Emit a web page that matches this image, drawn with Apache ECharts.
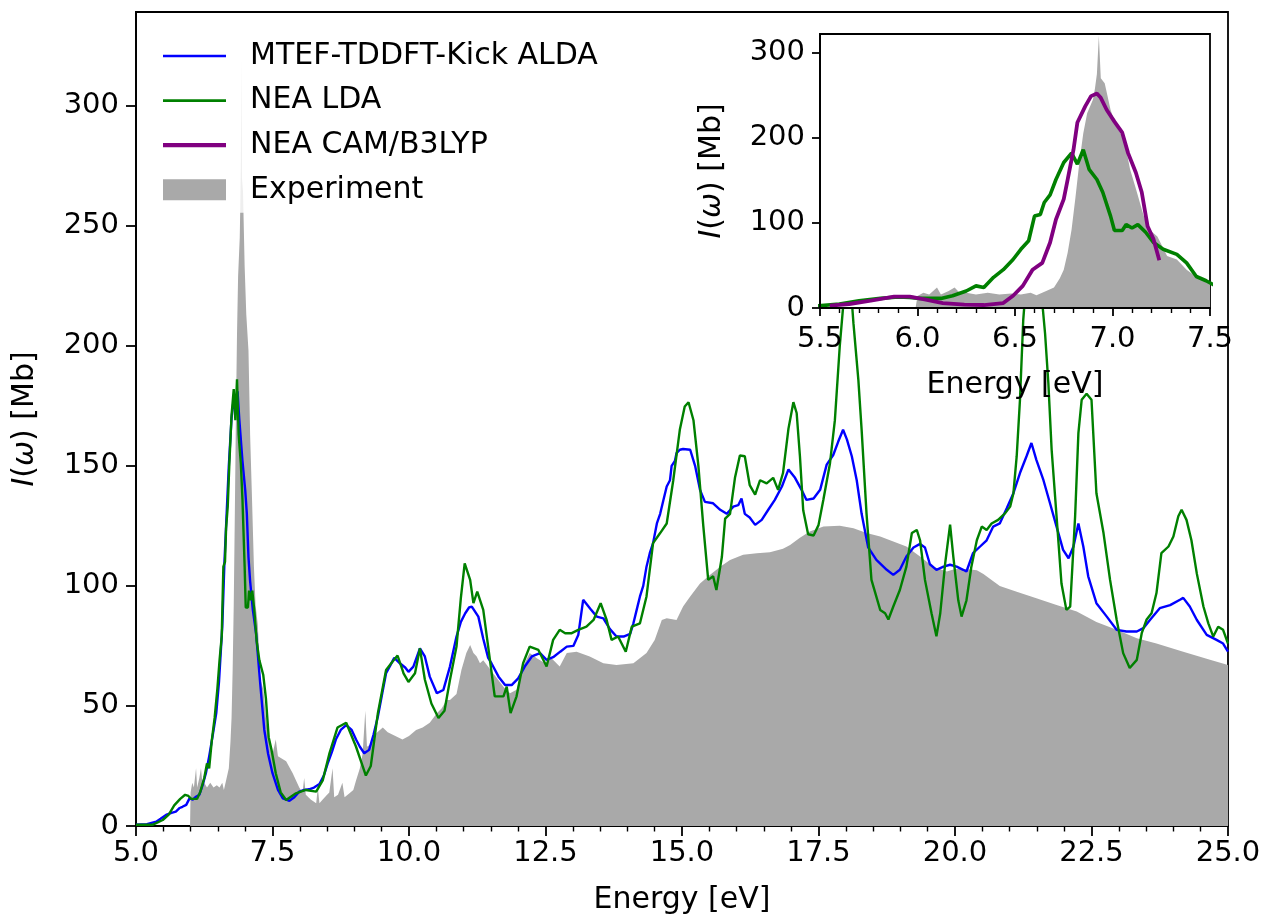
<!DOCTYPE html>
<html>
<head>
<meta charset="utf-8">
<script src="https://cdn.jsdelivr.net/npm/echarts@6/dist/echarts.min.js"></script>
<style>
  html, body { margin: 0; padding: 0; background: #fff; }
  #chart { width: 1267px; height: 921px; }
</style>
</head>
<body>
<div id="chart"></div>
<script>
// Photoabsorption spectra: energy in eV, intensity in Mb

// MTEF-TDDFT-Kick ALDA
const aldaEnergy = [5.0,5.2,5.37,5.45,5.55,5.65,5.73,5.8,5.85,5.92,5.98,6.04,6.1,6.16,6.22,6.28,6.34,6.4,6.47,6.52,6.58,6.62,6.66,6.7,6.75,6.79,6.82,6.84,6.86,6.89,6.95,7.0,7.03,7.06,7.09,7.14,7.2,7.28,7.35,7.42,7.5,7.6,7.69,7.81,7.9,7.99,8.08,8.17,8.26,8.36,8.44,8.51,8.59,8.66,8.75,8.85,8.95,9.03,9.1,9.18,9.27,9.35,9.43,9.5,9.58,9.66,9.73,9.82,9.93,9.99,10.08,10.2,10.29,10.38,10.51,10.63,10.75,10.87,10.95,11.03,11.1,11.15,11.27,11.36,11.45,11.51,11.64,11.76,11.88,12.0,12.12,12.25,12.4,12.52,12.64,12.77,12.89,13.01,13.1,13.19,13.32,13.44,13.56,13.68,13.8,13.93,14.05,14.11,14.17,14.23,14.29,14.35,14.41,14.47,14.54,14.6,14.66,14.72,14.78,14.81,14.87,14.9,14.96,15.02,15.15,15.24,15.33,15.42,15.57,15.7,15.82,15.94,16.03,16.09,16.15,16.24,16.34,16.46,16.58,16.7,16.83,16.95,17.07,17.19,17.28,17.41,17.53,17.65,17.77,17.86,17.95,18.02,18.11,18.2,18.29,18.41,18.56,18.75,18.87,18.99,19.11,19.24,19.36,19.45,19.54,19.66,19.79,19.91,20.03,20.15,20.21,20.33,20.46,20.58,20.7,20.82,20.95,21.07,21.19,21.31,21.4,21.49,21.62,21.74,21.86,21.98,22.08,22.17,22.26,22.35,22.44,22.59,22.78,22.96,23.14,23.33,23.45,23.57,23.75,23.94,24.12,24.18,24.3,24.43,24.61,24.79,24.91,25.0];
const aldaIntensity = [0.5,0.8,1.8,3,4.6,5.5,6,7.5,8,8.8,11.5,11,12.2,13,17,22,29,37,47,60,83,110,130,150,170,178,173,172,181,170,152,140,130,112,102,90,80,58,40,30,22,15,11.5,10.5,12,14.3,15,15.3,16,17.5,21,26,31,36,40,42,40,36,33,30.3,31.7,38,45.6,54,63.6,67,70,68,66,64.2,66.4,74,70.6,62.2,55.3,56.7,66.4,78.9,85,88.6,91,91.4,87.2,78,70,67.8,62.2,58.7,58.7,61.5,66.4,70.6,72,69.2,70.3,72.6,74.7,75,79.5,94.2,90.5,87.2,86.5,82,78.9,78.9,80,84.4,90,95.6,100,108,113.6,117.8,126,130,135.8,141.4,144,150,152,155.3,156.7,157,156.7,150,140,135,134.4,131.7,130,133,133.6,136.4,130,128.5,125.4,127.5,131.7,135.8,141.4,148.5,145,140,135.8,136.4,140,150.5,154.5,160,165,161,154,144,130,116,110.8,106.7,104.6,106.7,112.2,116,117.5,116,109,106.7,108,108.8,108,106.7,106,113.6,116.4,119,124.7,126,132.4,138.6,147,154,159.5,152.5,144,134.4,124.7,115,111.5,116.4,126,116.4,104,92.8,87.2,81.7,81,81,82.4,85.8,90.7,92,94.2,95,91.4,85.8,79.6,77.5,76,72.6];

// NEA LDA
const ldaEnergy = [5.0,5.3,5.49,5.6,5.7,5.81,5.9,5.96,6.01,6.12,6.18,6.25,6.3,6.34,6.39,6.44,6.49,6.53,6.57,6.6,6.63,6.65,6.68,6.71,6.75,6.79,6.82,6.85,6.88,6.92,6.95,6.99,7.01,7.05,7.07,7.1,7.13,7.17,7.21,7.26,7.33,7.38,7.43,7.48,7.56,7.65,7.75,7.93,8.11,8.3,8.42,8.54,8.69,8.85,9.03,9.21,9.3,9.43,9.58,9.7,9.79,9.88,9.9,9.99,10.11,10.2,10.29,10.41,10.54,10.65,10.75,10.87,10.95,11.02,11.12,11.18,11.25,11.36,11.45,11.57,11.73,11.79,11.86,11.97,12.09,12.21,12.37,12.52,12.64,12.76,12.86,12.98,13.1,13.25,13.38,13.51,13.62,13.71,13.83,13.97,14.08,14.23,14.35,14.47,14.6,14.72,14.84,14.96,15.05,15.12,15.21,15.3,15.39,15.48,15.57,15.63,15.73,15.79,15.88,15.97,16.06,16.15,16.24,16.34,16.43,16.55,16.67,16.76,16.85,16.95,17.04,17.1,17.16,17.22,17.31,17.41,17.5,17.59,17.71,17.8,17.89,17.95,18.02,18.08,18.14,18.23,18.29,18.38,18.47,18.63,18.72,18.78,18.87,18.99,19.11,19.21,19.3,19.36,19.45,19.57,19.66,19.73,19.82,19.91,19.97,20.06,20.12,20.21,20.3,20.4,20.49,20.58,20.67,20.79,20.92,21.01,21.07,21.13,21.19,21.25,21.35,21.45,21.55,21.65,21.71,21.77,21.86,21.95,22.04,22.11,22.2,22.26,22.32,22.41,22.5,22.59,22.72,22.84,22.96,23.08,23.2,23.33,23.42,23.51,23.6,23.69,23.78,23.91,24.0,24.09,24.15,24.24,24.33,24.43,24.55,24.64,24.73,24.82,24.91,25.0];
const ldaIntensity = [0.5,0.5,2.5,4.7,8.6,11.3,13,12.5,11.3,11.3,14.4,20,26,24,36,45,57,69,79,108,110,124,133,151,171,182,169,186,163,151,136,108,91,91,98,94,98,89,77,69,63,53,37,32,22,14,10.8,13.6,15,14.3,19,30,41,43,33,21,25,47,65,68.5,71,65,63.6,60,63.6,74,61,51,45,48,60.8,74.7,95,109.4,102.5,92.8,97.6,90,74.7,54,54,58,47,54,67.8,74.7,73.3,66.4,77.5,81.7,80.3,80.3,81.7,83,85.8,92.8,85.8,77.5,78.9,72.6,83,84.4,95.6,117.8,122,126,144,165,174.7,176.5,169,150,125,102.5,104,98.3,112,128,130,145,154.3,154,142,138,144,142.7,145,140,147,165.5,176.5,172,154,131.5,121.5,121,125.3,136,151,169,200,216,235,228,209.4,185.8,165,130,102.5,90,88.6,86,91.4,98.3,108,122,123.3,119,102.5,88.6,79,88.6,109.4,125.5,112,94,87.2,94,108,119,124.7,123.3,126,127.5,130.3,133,138.6,154,177.5,210.8,240,245,230,205,184.4,156.7,129,101,90,91.4,129,163.6,177.5,180,177.5,138.6,122,102.5,86,72,65.8,69.2,80.3,86,88.6,97,113.6,116.4,120.6,129,131.7,127.5,119,105,91.4,84.4,78.9,83,81.7,76];

// NEA CAM/B3LYP (computed over the first band only)
const camEnergy = [5.55,5.65,5.76,5.88,5.96,6.03,6.13,6.24,6.34,6.44,6.49,6.54,6.59,6.64,6.68,6.71,6.75,6.77,6.8,6.82,6.86,6.89,6.92,6.94,6.97,7.01,7.05,7.08,7.12,7.15,7.18,7.21,7.24];
const camIntensity = [2.7,4.7,8.6,13.3,13.3,10.5,5.8,3.9,3.5,5.8,14.4,26,45,53,77,104,128,151,186,218,237,249,252,247,233,219,206,182,159,136,96,81,56];

// Experiment
const expEnergy = [5.0,5.99,6.0,6.03,6.06,6.1,6.12,6.16,6.19,6.22,6.25,6.3,6.36,6.42,6.48,6.53,6.58,6.61,6.66,6.7,6.73,6.75,6.77,6.79,6.81,6.83,6.85,6.87,6.9,6.91,6.92,6.93,6.94,6.96,6.99,7.02,7.06,7.09,7.12,7.16,7.19,7.23,7.28,7.33,7.38,7.44,7.5,7.56,7.6,7.75,7.87,7.99,8.05,8.08,8.11,8.2,8.3,8.33,8.36,8.42,8.5,8.54,8.6,8.63,8.7,8.78,8.82,8.91,8.98,9.03,9.1,9.15,9.2,9.23,9.3,9.4,9.52,9.61,9.75,9.88,10.0,10.13,10.25,10.38,10.51,10.6,10.69,10.75,10.87,10.96,11.05,11.12,11.18,11.24,11.3,11.36,11.54,11.73,11.85,11.97,12.09,12.21,12.34,12.49,12.61,12.76,12.89,13.07,13.31,13.56,13.8,14.11,14.35,14.5,14.63,14.72,14.9,15.02,15.15,15.33,15.51,15.7,15.88,16.12,16.37,16.61,16.85,16.98,17.16,17.34,17.59,17.89,18.14,18.38,18.63,18.87,19.11,19.36,19.6,19.85,20.0,20.2,20.4,20.52,20.82,21.13,21.49,21.86,22.23,22.59,22.96,23.33,23.69,24.18,24.67,25.0];
const expIntensity = [0,0,14,18,16,24,16,20,24,17,18,16,18,16,17,16,18,15,20,24,35,45,65,92,130,171,205,229,245,258,275,320,270,264,233,213,198,163,140,108,92,84,61,57,45,35,30,36,29,27,22,16,14,20,13,11,9.5,16,9.5,11,13,14,24,12,13,18,12,13.6,15,19,24,30,48,33,34,38.6,41,39,37.5,36,37.5,40,41,43,47,49,52.5,52.5,55,65,72,75.4,72,70.6,67.8,69,63.6,58,55.3,56.7,66.4,72,69.9,67.8,69.9,66.4,72,72.6,70.6,67.8,67.1,67.8,72,77.5,85.8,86.5,85.8,91.4,95.6,101,104.5,108,110.8,113,113.6,114,115.5,117,120,122.6,124.7,125,124,122,120.6,118.5,116.4,112.2,108,106,107,107,106.5,105,100,97.6,94.9,92,89.3,85,81.7,78.2,76,72.6,69.2,67];

const pairs = (xs, ys) => xs.map((x, i) => [x, ys[i]]);

const FONT = 'DejaVu Sans';
const BLACK = '#000000';
const C_ALDA = '#0000ff';
const C_LDA = '#008000';
const C_CAM = '#800080';
const C_EXP = '#a9a9a9';

// Legend keys: plain strokes for the curves, a filled patch for the measured band
const THIN_KEY = 'path://M0,0H63V2.6H0Z';
const THICK_KEY = 'path://M0,0H63V4.2H0Z';

function valueAxis(extra) {
  return Object.assign({
    type: 'value',
    axisLine: { show: true, onZero: false, lineStyle: { color: BLACK, width: 1.8 } },
    axisTick: { show: true, length: 10, lineStyle: { color: BLACK, width: 1.8 } },
    splitLine: { show: false },
    axisLabel: { color: BLACK, fontSize: 29, fontFamily: FONT },
    nameLocation: 'middle',
    nameTextStyle: {
      color: BLACK, fontSize: 30, fontFamily: FONT,
      rich: { it: { fontStyle: 'italic', fontSize: 30, fontFamily: FONT, color: BLACK } }
    }
  }, extra);
}

const yName = '{it|I}({it|ω}) [Mb]';

const option = {
  animation: false,
  backgroundColor: '#ffffff',
  textStyle: { fontFamily: FONT },
  grid: [
    { left: 136, top: 12, width: 1092, height: 814, show: true, borderColor: BLACK, borderWidth: 1.8, backgroundColor: 'transparent', z: 0 },
    { left: 820, top: 34, width: 390, height: 274, show: true, borderColor: BLACK, borderWidth: 1.8, backgroundColor: '#ffffff', z: 3 }
  ],
  legend: {
    orient: 'vertical',
    left: 148, top: 26,
    padding: [15, 10, 8, 15],
    backgroundColor: 'rgba(255,255,255,0.8)',
    itemWidth: 63, itemHeight: 21, itemGap: 14.6,
    selectedMode: false,
    z: 4,
    textStyle: { color: BLACK, fontSize: 30, fontFamily: FONT, lineHeight: 30, padding: [0, 0, 0, 19] },
    data: [
      { name: 'MTEF-TDDFT-Kick ALDA', icon: THIN_KEY },
      { name: 'NEA LDA', icon: THIN_KEY },
      { name: 'NEA CAM/B3LYP', icon: THICK_KEY },
      { name: 'Experiment', icon: 'rect' }
    ]
  },
  xAxis: [
    valueAxis({
      gridIndex: 0, min: 5, max: 25, interval: 2.5,
      minorTick: { show: true, splitNumber: 5, length: 5.5, lineStyle: { color: BLACK, width: 1.4 } },
      axisLabel: { color: BLACK, fontSize: 29, fontFamily: FONT, margin: 13, formatter: v => v.toFixed(1) },
      name: 'Energy [eV]', nameGap: 59
    }),
    valueAxis({
      gridIndex: 1, min: 5.5, max: 7.5, interval: 0.5, z: 6,
      axisTick: { show: true, length: 8, lineStyle: { color: BLACK, width: 1.8 } },
      minorTick: { show: true, splitNumber: 5, length: 5, lineStyle: { color: BLACK, width: 1.4 } },
      axisLabel: { color: BLACK, fontSize: 29, fontFamily: FONT, margin: 17, formatter: v => v.toFixed(1) },
      name: 'Energy [eV]', nameGap: 62
    })
  ],
  yAxis: [
    valueAxis({
      gridIndex: 0, min: 0, max: 339, interval: 50,
      axisLabel: { color: BLACK, fontSize: 29, fontFamily: FONT, margin: 17, showMaxLabel: false },
      name: yName, nameRotate: 90, nameGap: 96
    }),
    valueAxis({
      gridIndex: 1, min: 0, max: 322, interval: 100, z: 6,
      axisTick: { show: true, length: 8, lineStyle: { color: BLACK, width: 1.8 } },
      axisLabel: { color: BLACK, fontSize: 29, fontFamily: FONT, margin: 15, showMaxLabel: false },
      name: yName, nameRotate: 90, nameGap: 93
    })
  ],
  series: [
    {
      name: 'Experiment', type: 'line', xAxisIndex: 0, yAxisIndex: 0, z: 1,
      data: pairs(expEnergy, expIntensity), symbol: 'none', color: C_EXP,
      lineStyle: { width: 0, color: C_EXP }, areaStyle: { color: C_EXP, opacity: 1 }
    },
    {
      name: 'MTEF-TDDFT-Kick ALDA', type: 'line', xAxisIndex: 0, yAxisIndex: 0, z: 2,
      data: pairs(aldaEnergy, aldaIntensity), symbol: 'none', color: C_ALDA,
      lineStyle: { width: 2.4, color: C_ALDA }
    },
    {
      name: 'NEA LDA', type: 'line', xAxisIndex: 0, yAxisIndex: 0, z: 2,
      data: pairs(ldaEnergy, ldaIntensity), symbol: 'none', color: C_LDA,
      lineStyle: { width: 2.4, color: C_LDA }
    },
    {
      name: 'Experiment', type: 'line', xAxisIndex: 1, yAxisIndex: 1, z: 4,
      data: pairs(expEnergy, expIntensity), symbol: 'none', color: C_EXP,
      lineStyle: { width: 0, color: C_EXP }, areaStyle: { color: C_EXP, opacity: 1 }
    },
    {
      name: 'NEA LDA', type: 'line', xAxisIndex: 1, yAxisIndex: 1, z: 5,
      data: pairs(ldaEnergy, ldaIntensity), symbol: 'none', color: C_LDA,
      lineStyle: { width: 3.6, color: C_LDA }
    },
    {
      name: 'NEA CAM/B3LYP', type: 'line', xAxisIndex: 1, yAxisIndex: 1, z: 5,
      data: pairs(camEnergy, camIntensity), symbol: 'none', color: C_CAM,
      lineStyle: { width: 3.8, color: C_CAM }
    }
  ]
};

const chart = echarts.init(document.getElementById('chart'), null, { renderer: 'canvas' });
chart.setOption(option);
</script>
</body>
</html>
